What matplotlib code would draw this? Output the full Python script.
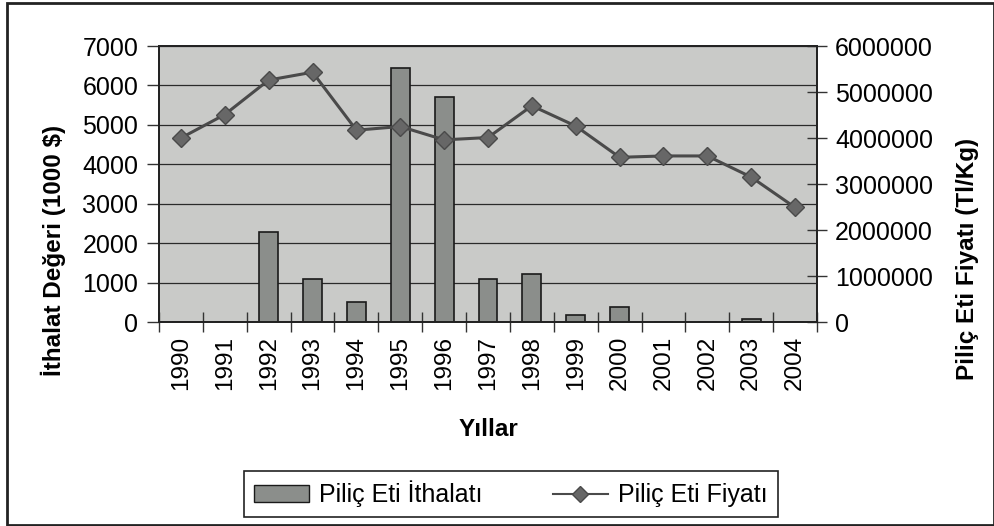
import numpy as np
import matplotlib
matplotlib.use("Agg")
import matplotlib.pyplot as plt
from matplotlib.patches import Rectangle

plt.rcParams["font.family"] = ["Liberation Sans", "DejaVu Sans"]

# --- data -------------------------------------------------------------------
years = ["1990", "1991", "1992", "1993", "1994", "1995", "1996", "1997",
         "1998", "1999", "2000", "2001", "2002", "2003", "2004"]
imports = [0, 0, 2270, 1080, 510, 6440, 5700, 1080,
           1230, 170, 380, 0, 0, 75, 0]                 # 1000 $
price = [4000000, 4510000, 5260000, 5430000, 4170000, 4250000, 3960000,
         4010000, 4700000, 4260000, 3580000, 3610000, 3610000, 3150000,
         2490000]                                       # Tl/Kg
left_ticks = [0, 1000, 2000, 3000, 4000, 5000, 6000, 7000]
right_ticks = [0, 1000000, 2000000, 3000000, 4000000, 5000000, 6000000]

W, H = 995, 526
fig = plt.figure(figsize=(W / 100, H / 100), dpi=100)
fig.patch.set_facecolor("white")

# plot area in pixels: x 159..817, y 46..322
x0, x1, y0, y1 = 159, 817, 46, 322
ax = fig.add_axes([x0 / W, 1 - y1 / H, (x1 - x0) / W, (y1 - y0) / H])
ax.set_facecolor("#c9cac8")

x = np.arange(len(years))
ax.bar(x, imports, width=0.43, color="#8b8e8b", edgecolor="#1a1a1a",
       linewidth=1.2, zorder=3)
ax.set_xlim(-0.5, len(years) - 0.5)
ax.set_ylim(0, 7000)
ax.set_yticks(left_ticks)
ax.set_yticklabels([str(v) for v in left_ticks], fontsize=18)
ax.yaxis.grid(True, color="#2a2a2a", linewidth=0.9, zorder=1)
ax.set_axisbelow(True)
ax.set_xticks(x)
ax.set_xticklabels(years, rotation=90, fontsize=17.5)
ax.set_xticks(np.arange(-0.5, len(years)), minor=True)
ax.tick_params(axis="x", which="major", length=0, pad=10)
ax.tick_params(axis="x", which="minor", direction="inout", length=14,
               width=1, color="#333333")
ax.tick_params(axis="y", direction="out", length=9, width=1,
               color="#333333", pad=6)
for s in ax.spines.values():
    s.set_color("#222222")
    s.set_linewidth(1.3)

ax2 = ax.twinx()
ax2.plot(x, price, color="#4a4a4a", linewidth=2.2, marker="D",
         markersize=9, markerfacecolor="#676767", markeredgecolor="#4a4a4a",
         zorder=4)
ax2.set_ylim(0, 6000000)
ax2.set_yticks(right_ticks)
ax2.set_yticklabels([str(v) for v in right_ticks], fontsize=18)
ax2.tick_params(axis="y", direction="inout", length=14, width=1,
                color="#333333", pad=6)
for s in ax2.spines.values():
    s.set_color("#222222")
    s.set_linewidth(1.3)

# axis titles
fig.text(53 / W, 1 - 250 / H, "İthalat Değeri (1000 $)", rotation=90,
         ha="center", va="center", fontsize=17.5, fontweight="bold")
fig.text(968 / W, 1 - 259 / H, "Piliç Eti Fiyatı (Tl/Kg)", rotation=90,
         ha="center", va="center", fontsize=17.5, fontweight="bold")
fig.text(488 / W, 1 - 430 / H, "Yıllar", ha="center", va="center",
         fontsize=17.5, fontweight="bold")

# legend
h1 = plt.Rectangle((0, 0), 1, 1, facecolor="#8b8e8b", edgecolor="#1a1a1a")
h2, = ax2.plot([], [], color="#4a4a4a", linewidth=1.5, marker="D",
               markersize=8, markerfacecolor="#676767",
               markeredgecolor="#4a4a4a")
leg = fig.legend([h1, h2], ["Piliç Eti İthalatı", "Piliç Eti Fiyatı"],
                 loc="center", bbox_to_anchor=(511 / W, 1 - 494 / H),
                 ncol=2, fontsize=18, frameon=True, fancybox=False,
                 edgecolor="#222222", framealpha=1, handlelength=2.2,
                 handletextpad=0.4, columnspacing=2.8, borderpad=0.4,
                 borderaxespad=0, numpoints=1)
leg.get_frame().set_linewidth(1.2)

# outer chart border
fig.patches.append(Rectangle((7 / W, 1 - 525 / H), (994 - 7) / W,
                             (525 - 3) / H, transform=fig.transFigure,
                             fill=False, edgecolor="#222222", linewidth=2))

fig.savefig("out.png", dpi=100)
